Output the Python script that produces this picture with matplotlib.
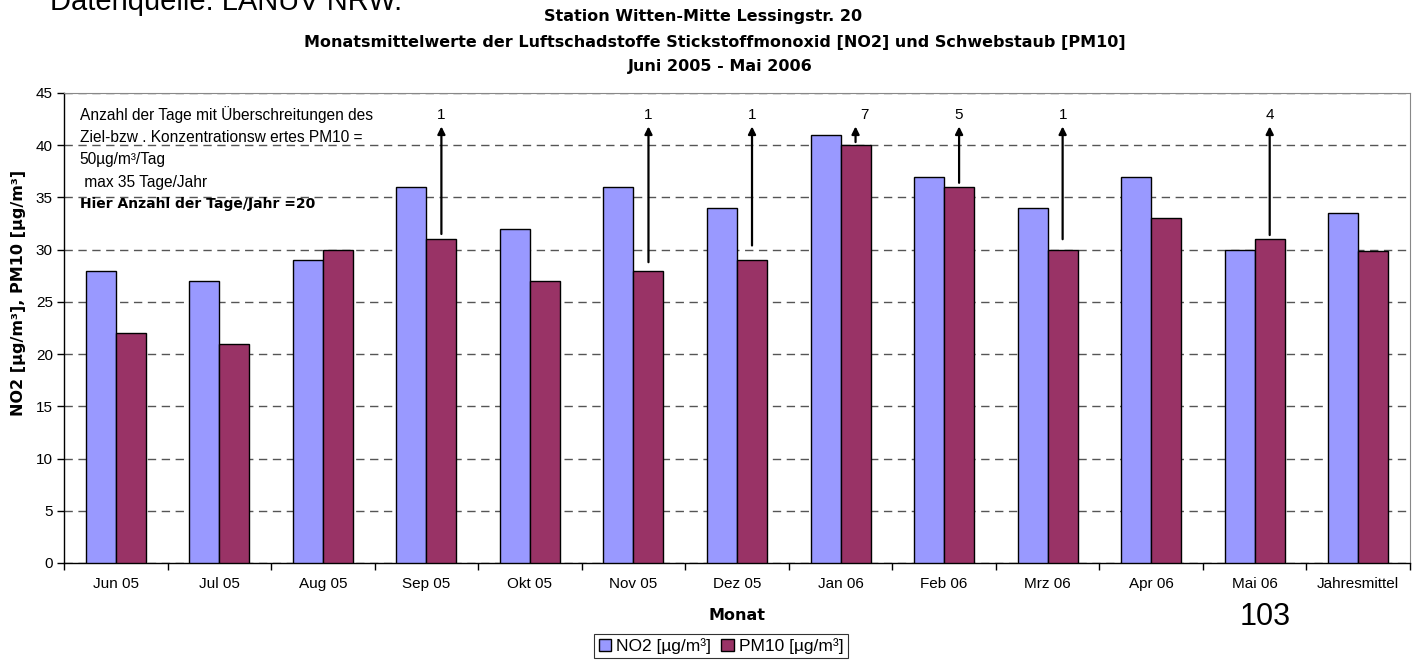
import numpy as np
import matplotlib
matplotlib.use('Agg')
import matplotlib.pyplot as plt
from matplotlib.patches import Patch
from matplotlib.ticker import FixedLocator, MultipleLocator

plt.rcParams['font.family'] = ['Liberation Sans', 'DejaVu Sans']
fett = ['DejaVu Sans']  # breitere Schrift fuer fette Beschriftungen

# Monatsmittelwerte
monate = ['Jun 05', 'Jul 05', 'Aug 05', 'Sep 05', 'Okt 05', 'Nov 05', 'Dez 05',
          'Jan 06', 'Feb 06', 'Mrz 06', 'Apr 06', 'Mai 06', 'Jahresmittel']
no2 = [28, 27, 29, 36, 32, 36, 34, 41, 37, 34, 37, 30, 33.5]
pm10 = [22, 21, 30, 31, 27, 28, 29, 40, 36, 30, 33, 31, 29.9]

# Ueberschreitungstage PM10 (Monat, Anzahl, Pfeilanfang)
ueb_monat = [3, 5, 6, 7, 8, 9, 11]
ueb_tage = [1, 1, 1, 7, 5, 1, 4]
ueb_start = [31.5, 28.8, 30.4, 40.3, 36.4, 31.0, 31.4]

farbe_no2 = '#9999FF'
farbe_pm10 = '#993366'

fig = plt.figure(figsize=(14.19, 6.63), dpi=100)
ax = fig.add_axes([64 / 1419, 1 - 563 / 663, (1410 - 64) / 1419, (563 - 93) / 663])

xs = np.arange(len(monate))
breite = 0.29
ax.bar(xs - breite / 2, no2, breite, color=farbe_no2, edgecolor='black', linewidth=1.0, zorder=3)
ax.bar(xs + breite / 2, pm10, breite, color=farbe_pm10, edgecolor='black', linewidth=1.0, zorder=3)

ax.set_xlim(-0.5, len(monate) - 0.5)
ax.set_ylim(0, 45)
ax.yaxis.set_major_locator(MultipleLocator(5))
ax.set_xticks(xs)
ax.set_xticklabels(monate, fontsize=11)
ax.xaxis.set_minor_locator(FixedLocator(np.arange(-0.5, len(monate), 1)))
ax.tick_params(axis='x', which='major', length=0, pad=10)
ax.tick_params(axis='x', which='minor', length=5, width=1, direction='out')
ax.tick_params(axis='y', length=5, width=1, labelsize=11, pad=3)

ax.yaxis.grid(True, linestyle=(0, (6, 4)), color='#555555', linewidth=1.0, zorder=0)
ax.set_axisbelow(True)
for s in ['top', 'right']:
    ax.spines[s].set_color('#888888')
for s in ['left', 'bottom']:
    ax.spines[s].set_color('black')
    ax.spines[s].set_linewidth(1.0)

ax.set_ylabel('NO2 [µg/m³], PM10 [µg/m³]', fontsize=11.5, fontweight='bold', family=fett)
ax.yaxis.set_label_coords(-0.028, 0.574)
ax.set_xlabel('Monat', fontsize=11.5, fontweight='bold', family=fett, labelpad=12)

# Pfeile mit Anzahl der Ueberschreitungstage
for m, n, y0 in zip(ueb_monat, ueb_tage, ueb_start):
    x = m + breite / 2
    ax.annotate('', xy=(x, 41.8), xytext=(x, y0),
                arrowprops=dict(arrowstyle='-|>', color='black', lw=1.6, mutation_scale=11,
                                shrinkA=0, shrinkB=0), zorder=4)
    dx = 0.09 if n == 7 else 0
    ax.text(x + dx, 42.9, str(n), ha='center', va='center', fontsize=11, zorder=4)

info = ('Anzahl der Tage mit Überschreitungen des\n'
        'Ziel-bzw . Konzentrationsw ertes PM10 =\n'
        '50µg/m³/Tag\n'
        ' max 35 Tage/Jahr')
ax.text(-0.35, 43.75, info, ha='left', va='top', fontsize=11.2, linespacing=1.6, zorder=4)
ax.text(-0.35, 34.4, 'Hier Anzahl der Tage/Jahr =20', ha='left', va='center',
        fontsize=10, fontweight='bold', family=fett, zorder=4)

fig.text(703 / 1419, 1 - 17 / 663, 'Station Witten-Mitte Lessingstr. 20',
         ha='center', va='center', fontsize=11.5, fontweight='bold', family=fett)
fig.text(715 / 1419, 1 - 42 / 663,
         'Monatsmittelwerte der Luftschadstoffe Stickstoffmonoxid [NO2] und Schwebstaub [PM10]',
         ha='center', va='center', fontsize=11.5, fontweight='bold', family=fett)
fig.text(720 / 1419, 1 - 67 / 663, 'Juni 2005 - Mai 2006',
         ha='center', va='center', fontsize=11.5, fontweight='bold', family=fett)

fig.text(50 / 1419, 1 - 10 / 663, 'Datenquelle: LANUV NRW.', ha='left', va='baseline', fontsize=21)
fig.text(1265 / 1419, 1 - 625 / 663, '103', ha='center', va='baseline', fontsize=22)

handles = [Patch(facecolor=farbe_no2, edgecolor='black', linewidth=1.0),
           Patch(facecolor=farbe_pm10, edgecolor='black', linewidth=1.0)]
leg = fig.legend(handles, ['NO2 [µg/m³]', 'PM10 [µg/m³]'], loc='center',
                 bbox_to_anchor=(721 / 1419, 1 - 646 / 663), ncol=2, fontsize=12.5,
                 frameon=True, fancybox=False, handlelength=0.7, handleheight=0.7,
                 handletextpad=0.3, columnspacing=0.6, borderpad=0.25)
leg.get_frame().set_edgecolor('black')
leg.get_frame().set_linewidth(0.8)

fig.savefig('out.png', dpi=100)
